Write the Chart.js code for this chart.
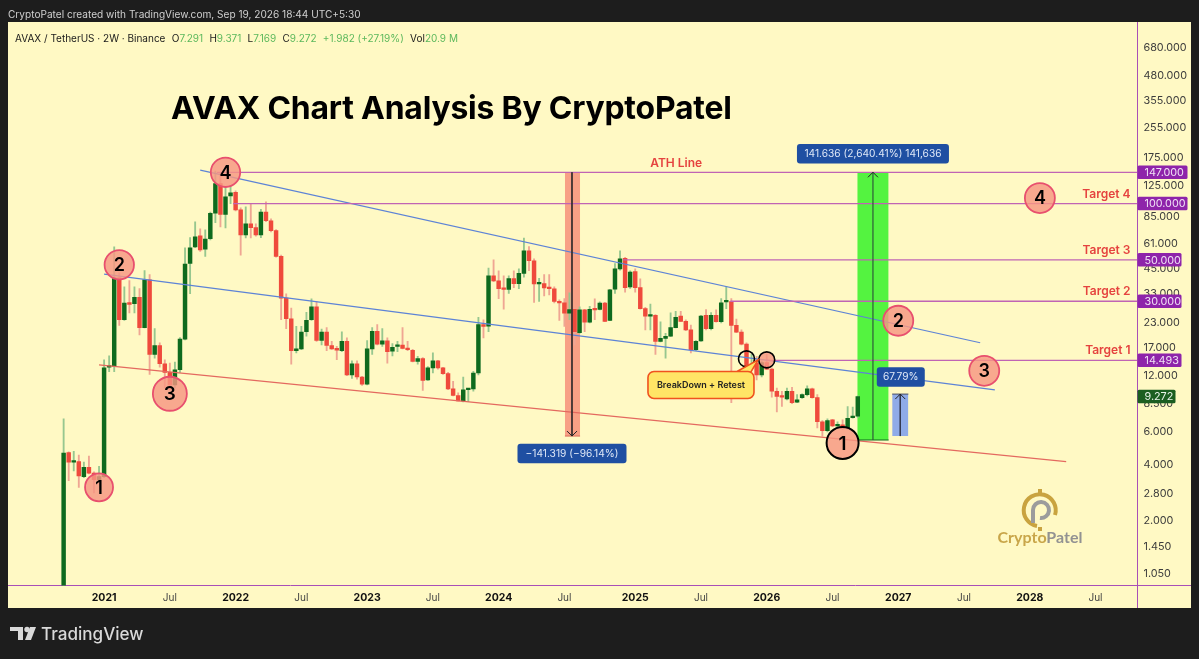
<!DOCTYPE html>
<html><head><meta charset="utf-8">
<script src="https://cdn.jsdelivr.net/npm/chart.js@4/dist/chart.umd.min.js"></script>
<style>
html,body{margin:0;padding:0;background:#1d1d1d;width:1199px;height:659px;overflow:hidden;font-family:Inter,"Liberation Sans",sans-serif}
#panel{position:absolute;left:8px;top:22px;width:1183px;height:586px;background:#fff9c4}
canvas{position:absolute;left:0;top:0}
.t{position:absolute;white-space:nowrap}
#head{left:8px;top:8px;font-size:10.1px;color:#cfcfcf}
#leg{left:15px;top:32px;font-size:10px;color:#1a1a1a}
#leg b{font-weight:400;color:#5cb85c}
#leg span{margin-right:3.5px}
#title{left:171px;top:88px;font-size:31.9px;font-weight:700;color:#000;letter-spacing:-.2px}
#tv{left:41px;top:623px;font-size:17.1px;font-weight:500;color:#d9d9d9}
#logo{position:absolute;left:990px;top:488px}
</style></head><body>
<div id="panel"></div>
<canvas id="c" width="1199" height="659"></canvas>
<div class="t" id="head">CryptoPatel created with TradingView.com, Sep 19, 2026 18:44 UTC+5:30</div>
<div class="t" id="leg"><span>AVAX / TetherUS · 2W · Binance</span> <span>O<b>7.291</b></span> <span>H<b>9.371</b></span> <span>L<b>7.169</b></span> <span>C<b>9.272</b></span> <span><b>+1.982 (+27.19%)</b></span> <span>Vol<b>20.9 M</b></span></div>
<div class="t" id="title">AVAX Chart Analysis By CryptoPatel</div>
<svg style="position:absolute;left:10px;top:626px" width="26" height="15"><path d="M0 1h13v13H8V5H0z" fill="#d9d9d9"/><circle cx="17" cy="3.5" r="2.7" fill="#d9d9d9"/><path d="M20 1h6l-5 13h-6z" fill="#d9d9d9"/></svg>
<div class="t" id="tv">TradingView</div>
<svg id="logo" width="100" height="62">
<path d="M65 27 A16 16 0 1 0 47 38" fill="none" stroke="#c9a33f" stroke-width="4"/>
<rect x="48" y="1" width="4" height="4" fill="#c9a33f"/><rect x="48" y="39" width="4" height="4" fill="#c9a33f"/>
<path d="M43 35 V22 A8 8 0 1 1 50 30" fill="none" stroke="#9c9c9c" stroke-width="4"/>
<text x="50" y="55" text-anchor="middle" font-family="Lato,Inter" font-weight="700" font-size="16"><tspan fill="#c9a64a">Crypto</tspan><tspan fill="#929292">Patel</tspan></text>
</svg>
<script>
const opens=[0.85,4.65,4.13,4.16,3.46,3.88,3.61,3.33,3.46,13.3,
13.5,40,23.9,29.3,29.1,31.5,21.7,39.1,15.6,17.4,
13.9,12.5,10.7,12.9,18.8,47.8,58.6,67.1,57,64.8,
88.7,128,87.5,110,115,92.5,68,78,74.4,68,
89.9,80.9,71.6,52.2,31.2,24.2,16.3,16.7,20.6,23.9,
28,18.5,20.5,17.4,16.8,16.3,18.3,12.1,13.9,11.8,
10.8,16.7,20.7,17.7,18.4,16.2,17.2,17.5,16.8,16.4,
14.3,14.8,11.4,13.2,14.4,13.2,12.3,10.2,9.4,8.8,
10.08,10.2,12.4,22.5,22.1,41,38.6,35,34.7,39.7,
37.3,42.3,55.8,49.4,37.2,37.3,35.4,35,30,29.4,
25.9,27.2,20.4,27,23.2,27.2,27.1,29.3,23.7,34.8,
44.7,51,35.8,43.3,35.5,27.4,25,25.2,18.3,19,
19.5,21.7,25,23.4,21.1,16.5,18.4,25.2,21.4,25.2,
23.3,29.8,29.9,22.3,20.5,17.7,13.5,14,12.1,14.1,
13,9.9,9.3,9.0,9.9,8.65,9.15,9.5,10.2,9.15,
6.8,6.1,6.96,6.45,6.55,6.3,7.15,7.291];
const closes=[4.62,4.13,4.17,3.49,3.88,3.61,3.33,3.46,13.2,13.5,
40,23.9,29.3,28.9,31.5,21.7,39.1,15.6,17.4,13.9,
12.5,10.7,12.9,18.8,47.4,58,66.3,56.5,64.6,88.7,
128,87.5,108.8,114,92.5,68,78,74.4,68,89.9,
80.9,71.6,52.2,31.2,24.2,16.3,16.7,20.5,23.7,28,
18.5,20.5,17.4,16.7,16.4,18.3,12.1,13.9,11.8,10.8,
16.7,20.7,17.7,18.4,16.1,17,17.5,16.8,16.5,14.3,
14.8,11.3,13.2,14.4,13.2,12.3,10.2,9.4,8.8,10.08,
10.2,12.4,22.5,22,41,38.6,35,34.7,39.7,37.3,
42.3,55.8,49.4,37.2,37.6,35.4,35,29.9,29.4,25.9,
27.1,20.6,27,23.2,27.2,27,29.3,23.4,34.5,44.7,
50.6,35.5,43,35.5,27.4,25,25.2,18.3,19,19.5,
21.7,24.6,23.4,21.1,16.5,18.3,25,21.4,25.2,23.3,
29.4,29.9,22.3,20.5,17.7,13.3,13.7,12.1,14.1,13,
9.9,9.3,9.2,9.9,8.6,8.9,9.5,10.2,9.15,6.8,
6.1,6.9,6.45,6.55,6.3,7.1,7.3,9.272];
const highs=[7.05,4.69,4.72,4.51,4.13,4.45,3.67,3.93,14.6,15.3,
58.7,42.6,35.8,38.7,35.8,35.1,43.8,41.7,21.4,18,
14.6,14,14.2,19.2,58,65.7,79.9,73.2,72.3,90,
149,147,123,123,117,95,96,100,78,93.2,
102,82.8,72.6,53,32.9,27.6,22,22,26.2,30.9,
29.8,21.3,21.7,18.3,17.2,20.6,19.1,14.4,14.4,11.9,
18.5,21.7,22.5,21.4,19.1,17.8,18.3,21.7,18.3,16.6,
15.2,15,13.4,15.9,14.5,13.3,12.5,11.2,9.7,11.8,
10.2,12.65,24.6,23.9,45.1,50,43.7,41,41,43.7,
44.7,65.4,58.8,50.6,39.8,41.7,41.7,35.8,30.5,31,
33.3,27.4,28,27.2,28.2,30.9,29.8,29.6,34.8,47.8,
55.8,51.5,43.7,44.7,39.6,27.8,29,25.5,23.3,20.2,
26,26.5,26.5,23.9,22.4,18.5,25.2,27.1,26.1,27,
31,35.8,31,24.1,21.1,18,15.6,15.2,14.4,15.6,
13.2,10.3,9.9,10.3,10.4,9.5,9.6,10.6,10.3,9.5,
6.9,7.05,7,6.8,6.96,8.2,8.15,9.371];
const lows=[0.85,3.29,3.71,3.03,3.41,3.58,2.83,3.25,3.41,12.6,
12.6,22.3,23.7,26,26,19.8,21.6,12.2,14.9,13.3,
10.3,10.1,10.3,12.5,18.65,32.9,58,55.4,52.2,63.9,
78.9,75,74,100,91.4,53,65.4,65.4,67,65.7,
80,70.5,51.6,23.9,21.4,13.8,15.9,16.5,19.5,23.7,
18.3,17.5,16.3,16.6,14.6,16.1,12,11.6,11.5,10.65,
10.7,15.6,17.5,17.2,14,15.3,16.1,16.7,16.3,14.2,
13.8,10,11.3,12.4,13,12.2,10.1,9.35,8.8,8.68,
8.71,9.9,12.1,19.1,20.6,38.2,31,27.2,33,35.5,
35,40.4,43.8,29.6,29.9,32,32.4,29.4,23.7,22,
23.9,17.5,20.2,20.6,23,23.9,27,23.3,23.6,33,
44,33.6,35.2,33.6,27.2,21.1,21.1,15.6,18.2,14.9,
19.4,21.6,23.3,20.9,15.9,16.3,18.3,21.1,21.1,23.2,
23,27.4,8.6,20.4,17.5,13.2,13.2,11.4,11.8,12.9,
9.2,7.67,8.2,8.9,8.5,8.6,9.05,9.35,9.1,6.3,
5.7,6,6.4,6.3,6.16,6.2,7.1,7.169];
const yTicks=[680,480,355,255,175,125,85,61,45,33,23,17,12,8.5,6,4,2.8,2,1.45,1.05];
const xTickBars=[8,21,34,47,60,73,86,99,113,126,139,152,165,178,191,204];
const xTickLabels=['2021','Jul','2022','Jul','2023','Jul','2024','Jul','2025','Jul','2026','Jul','2027','Jul','2028','Jul'];
const levelPrices=[147,100,50,30,14.493];
const levelStarts=[30.3,33.5,110.6,131.8,139];
const levelText=['147.000','100.000','50.000','30.000','14.493'];
const targetNames=['Target 4','Target 3','Target 2','Target 1'];
const targetPrices=[112.6,56.5,33.7,16.3];
const trendUpper=[[27,151],[181.2,18]];
const trendMid=[[8,41.9],[184.1,10.08]];
const trendLow=[[7,13.7],[198.2,4.16]];
const waveBars=[7,11,21,32,154,165,182,193];
const wavePrices=[3.03,47,9.6,147,5.24,23.6,12.73,107];
const waveText=['1','2','3','4','1','2','3','4'];
const waveRadius=[14,14.7,17,14.7,16,15,15,15];
const lastPrice=9.272;

const n=opens.length, idx=opens.map((_,i)=>i);
const upBody='#0e6a1e', dnBody='#ef4a3c', upWick='#97c78f', dnWick='#efa693';
const isUp=i=>closes[i]>=opens[i];
const isYear=v=>xTickLabels[xTickBars.indexOf(v)]!=='Jul';
const line=(pts,color,w,order)=>({type:'line',data:pts.map(p=>({x:p[0],y:p[1]})),borderColor:color,borderWidth:w,pointRadius:0,fill:false,order,tension:0});
const band=(x0,x1,top,bot,color)=>({type:'line',data:[{x:x0,y:top},{x:x1,y:top}],borderWidth:0,borderColor:'transparent',backgroundColor:color,pointRadius:0,fill:{value:bot},order:20});
const XMAX=212.3;
const datasets=[
 band(99.1,102.1,147,5.7,'rgba(245,130,112,.75)'),
 band(156.9,163.1,147,5.43,'#54f340'),
 band(163.8,167.0,9.56,5.7,'#8fabe8'),
 {type:'bar',data:idx.map(i=>({x:i,y:[lows[i],highs[i]]})),backgroundColor:idx.map(i=>isUp(i)?upWick:dnWick),barThickness:1.2,grouped:false,order:11},
 {type:'bar',data:idx.map(i=>({x:i,y:[opens[i],closes[i]]})),backgroundColor:idx.map(i=>isUp(i)?upBody:dnBody),barThickness:3.8,grouped:false,minBarLength:1.6,order:10},
 line(trendUpper,'#5d83d6',1.2,5),
 line(trendMid,'#5d83d6',1.2,5),
 line(trendLow,'#e4695f',1.2,5),
 ...levelPrices.map((p,i)=>line([[levelStarts[i],p],[XMAX,p]],'#c064b4',1.3,4)),
 line([[100.5,147],[100.5,5.7]],'#3a2f2f',1,3),
 line([[160,147],[160,5.43]],'#2f5a3a',1.2,3),
 line([[165.4,9.56],[165.4,5.7]],'#33384f',1,3),
 line([[156.9,5.43],[163.1,5.43]],'#0e6a1e',1.2,3),
 line([[163.8,9.56],[167,9.56]],'#4a4f60',1,3),
 line([[99.1,5.7],[102.1,5.7]],'#d86b5a',1,3),
 {type:'scatter',data:waveBars.map((b,i)=>({x:b,y:wavePrices[i]})),backgroundColor:'rgba(247,150,130,.82)',
  borderColor:waveBars.map((b,i)=>i===4?'#000':'#e8506e'),borderWidth:waveBars.map((b,i)=>i===4?2:1.8),pointRadius:waveRadius,pointHoverRadius:waveRadius,order:2},
 {type:'scatter',data:[{x:135,y:14.76},{x:139,y:14.58}],backgroundColor:['rgba(0,0,0,0)','rgba(247,150,130,.82)'],borderColor:'#000',borderWidth:1.6,pointRadius:8,order:2}
];
function box(ctx,x,y,w,h,r,fill,stroke){ctx.beginPath();ctx.roundRect(x,y,w,h,r);ctx.fillStyle=fill;ctx.fill();if(stroke){ctx.strokeStyle=stroke;ctx.lineWidth=1.6;ctx.stroke();}}
const overlay={id:'overlay',
 afterDraw(chart){
  const ctx=chart.ctx,X=chart.scales.x,Y=chart.scales.y,a=chart.chartArea;
  const px=v=>X.getPixelForValue(v),py=v=>Y.getPixelForValue(v);
  ctx.save();
  ctx.strokeStyle='#a84fb8';ctx.lineWidth=1;ctx.beginPath();
  ctx.moveTo(a.right,a.bottom);ctx.lineTo(chart.width-8,a.bottom);
  ctx.moveTo(a.right,a.bottom);ctx.lineTo(a.right,chart.height-51);ctx.stroke();
  const head=(v,p,dir)=>{const x=px(v),y=py(p);ctx.strokeStyle='#222';ctx.lineWidth=1;ctx.beginPath();ctx.moveTo(x-5,y-dir*5);ctx.lineTo(x,y);ctx.lineTo(x+5,y-dir*5);ctx.stroke();};
  head(100.5,5.7,1);head(160,147,-1);head(165.4,9.56,-1);
  ctx.textBaseline='middle';
  ctx.fillStyle='#000';ctx.textAlign='center';
  waveBars.forEach((b,i)=>{ctx.font='600 '+(i===2||i===4?19:18)+'px Inter';ctx.fillText(waveText[i],px(b),py(wavePrices[i])+1);});
  ctx.fillStyle='#e5433f';ctx.font='600 12px Inter';ctx.fillText('ATH Line',px(121.1),py(165));
  ctx.font='600 12px Inter';ctx.textAlign='right';
  targetNames.forEach((t,i)=>ctx.fillText(t,a.right-7,py(targetPrices[i])));
  ctx.textAlign='center';ctx.font='10.2px Inter';
  [['141.636 (2,640.41%) 141,636',160,184.3,152],['\u2212141.319 (\u221296.14%)',100.5,4.58,109],['67.79%',165.5,11.75,48]].forEach(([s,v,p,w])=>{
    box(ctx,px(v)-w/2,py(p)-10,w,19.5,3,'#1f4fa2');ctx.fillStyle='#dfe8f7';ctx.fillText(s,px(v),py(p));});
  const bx=px(126),by=py(10.7);
  ctx.beginPath();ctx.roundRect(bx-53,by-13.5,106,27,6);ctx.moveTo(bx+36,by-13.5);ctx.lineTo(px(137.3),py(14.58));ctx.lineTo(bx+50,by-13);
  ctx.fillStyle='#ffe566';ctx.fill();ctx.strokeStyle='#f0521e';ctx.lineWidth=1.6;ctx.stroke();
  ctx.fillStyle='#222';ctx.font='600 9px Inter';ctx.fillText('BreakDown + Retest',bx,by);
  ctx.textAlign='left';ctx.font='10.8px Inter';
  levelPrices.forEach((p,i)=>{const w=i<2?50:44;box(ctx,a.right,py(p)-6.7,w,13.4,1.5,'#8e24aa');ctx.fillStyle='#f0e0f5';ctx.fillText(levelText[i],a.right+7,py(p)+.5);});
  box(ctx,a.right,py(lastPrice)-6.7,38,13.4,1.5,'#1b5e20');ctx.fillStyle='#e8f3e8';ctx.fillText(lastPrice.toFixed(3),a.right+7,py(lastPrice)+.5);
  ctx.restore();
 }};
new Chart(document.getElementById('c'),{type:'bar',data:{datasets},plugins:[overlay],options:{
 responsive:false,animation:false,devicePixelRatio:1,
 layout:{autoPadding:false,padding:{left:8.5,top:22,right:8,bottom:51}},
 plugins:{legend:{display:false},tooltip:{enabled:false}},
 scales:{
  x:{type:'linear',min:-10.9,max:XMAX,offset:false,grid:{display:false,drawTicks:false},border:{color:'#a84fb8',width:1},
   afterBuildTicks:s=>{s.ticks=xTickBars.map(v=>({value:v}));},
   afterFit:s=>{s.height=22.5;s.paddingLeft=0;s.paddingRight=0;},
   ticks:{autoSkip:false,maxRotation:0,padding:6,
    callback:v=>xTickLabels[xTickBars.indexOf(v)],
    font:c=>(c.tick&&!isYear(c.tick.value))?{family:'Inter',size:10}:{family:'Inter',size:10.5,weight:'700'},
    color:c=>(c.tick&&!isYear(c.tick.value))?'#444':'#111'}},
  y:{type:'logarithmic',position:'right',min:0.904,max:936.6,bounds:'data',grid:{display:false,drawTicks:false},border:{color:'#a84fb8',width:1},
   afterBuildTicks:s=>{s.ticks=yTicks.map(v=>({value:v}));},
   afterFit:s=>{s.width=53.5;s.paddingTop=0;s.paddingBottom=0;},
   ticks:{autoSkip:false,padding:6,major:{enabled:false},callback:v=>Number(v).toFixed(3),font:{family:'Inter',size:10.8},color:'#3c3c3c'}}
 }}});
</script>
</body></html>
